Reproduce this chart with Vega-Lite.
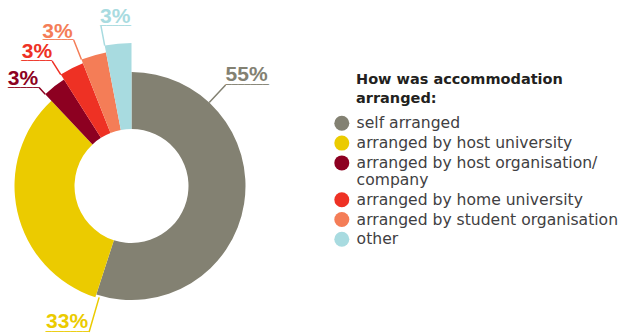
{
  "$schema": "https://vega.github.io/schema/vega-lite/v6.json",
  "width": 263,
  "height": 300,
  "autosize": {"type": "none"},
  "padding": {"left": 0, "top": 36, "right": 358, "bottom": 0},
  "background": "white",
  "config": {
    "view": {"stroke": null},
    "legend": {"orient": "none", "legendX": 356, "legendY": 37, "titleFont": "DejaVu Sans", "titleFontSize": 14.5, "titleFontWeight": "bold", "titleColor": "#231f20", "titleLineHeight": 18.5, "titlePadding": 9.5, "titleLimit": 400, "symbolType": "circle", "symbolSize": 225, "symbolStrokeWidth": 0, "symbolOffset": -22, "labelFont": "DejaVu Sans", "labelFontSize": 15.6, "labelColor": "#414042", "labelOffset": 7, "labelLimit": 0, "rowPadding": 2.8}
  },
  "data": {
    "values": [
      {"category": "self arranged", "pct": 0.55, "order": 1},
      {"category": "arranged by host university", "pct": 0.33, "order": 2},
      {"category": "arranged by host organisation/ company", "pct": 0.03, "order": 3},
      {"category": "arranged by home university", "pct": 0.03, "order": 4},
      {"category": "arranged by student organisation", "pct": 0.03, "order": 5},
      {"category": "other", "pct": 0.03, "order": 6}
    ]
  },
  "transform": [
    {"stack": "pct", "groupby": [], "sort": [{"field": "order", "order": "ascending"}], "as": ["v0", "v1"]}
  ],
  "layer": [
    {
      "transform": [{"filter": "datum.order == 1"}],
      "layer": [
        {"mark": {"type": "arc", "innerRadius": 57, "outerRadius": 114},
         "encoding": {
           "theta": {"field": "v0", "type": "quantitative", "stack": null, "scale": {"domain": [0, 1]}},
           "theta2": {"field": "v1"},
           "color": {"field": "category", "type": "nominal", "scale": {"domain": ["self arranged", "arranged by host university", "arranged by host organisation/ company", "arranged by home university", "arranged by student organisation", "other"], "range": ["#838172", "#ebcb00", "#8d0021", "#ee3124", "#f47d57", "#a8dbe0"]},
             "legend": {"title": ["How was accommodation", "arranged:"], "labelExpr": "datum.label == 'arranged by host organisation/ company' ? ['arranged by host organisation/', 'company'] : datum.label"}}
         }},
        {"mark": {"type": "arc", "filled": false, "strokeWidth": 1.5, "innerRadius": 114, "outerRadius": 138},
         "encoding": {
           "theta": {"datum": 0.1194, "type": "quantitative", "scale": {"domain": [0, 1]}},
           "theta2": {"datum": 0.1194},
           "color": {"field": "category", "type": "nominal", "legend": null}
         }},
        {"mark": {"type": "text", "radius": 138, "align": "left", "baseline": "alphabetic", "dx": 0, "dy": -4, "font": "Liberation Sans", "fontWeight": "bold", "fontSize": 21},
         "encoding": {
           "theta": {"datum": 0.1194, "type": "quantitative", "scale": {"domain": [0, 1]}},
           "text": {"field": "pct", "type": "quantitative", "format": ".0%"},
           "color": {"field": "category", "type": "nominal", "legend": null}
         }},
        {"mark": {"type": "text", "radius": 138, "align": "left", "baseline": "middle", "dx": 0, "font": "DejaVu Sans", "fontSize": 10.3},
         "encoding": {
           "theta": {"datum": 0.1194, "type": "quantitative", "scale": {"domain": [0, 1]}},
           "text": {"value": "───────"},
           "color": {"field": "category", "type": "nominal", "legend": null}
         }}
      ]
    },
    {
      "transform": [{"filter": "datum.order == 2"}],
      "layer": [
        {"mark": {"type": "arc", "innerRadius": 57, "outerRadius": 117},
         "encoding": {
           "theta": {"field": "v0", "type": "quantitative", "stack": null, "scale": {"domain": [0, 1]}},
           "theta2": {"field": "v1"},
           "color": {"field": "category", "type": "nominal",
             "legend": {"title": ["How was accommodation", "arranged:"], "labelExpr": "datum.label == 'arranged by host organisation/ company' ? ['arranged by host organisation/', 'company'] : datum.label"}}
         }},
        {"mark": {"type": "arc", "filled": false, "strokeWidth": 1.5, "innerRadius": 116, "outerRadius": 152},
         "encoding": {
           "theta": {"datum": 0.545, "type": "quantitative", "scale": {"domain": [0, 1]}},
           "theta2": {"datum": 0.545},
           "color": {"field": "category", "type": "nominal", "legend": null}
         }},
        {"mark": {"type": "text", "radius": 152, "align": "right", "baseline": "alphabetic", "dx": -1, "dy": -3.5, "font": "Liberation Sans", "fontWeight": "bold", "fontSize": 21},
         "encoding": {
           "theta": {"datum": 0.545, "type": "quantitative", "scale": {"domain": [0, 1]}},
           "text": {"field": "pct", "type": "quantitative", "format": ".0%"},
           "color": {"field": "category", "type": "nominal", "legend": null}
         }},
        {"mark": {"type": "text", "radius": 152, "align": "right", "baseline": "middle", "dx": 0, "font": "DejaVu Sans", "fontSize": 10.3},
         "encoding": {
           "theta": {"datum": 0.545, "type": "quantitative", "scale": {"domain": [0, 1]}},
           "text": {"value": "───────"},
           "color": {"field": "category", "type": "nominal", "legend": null}
         }}
      ]
    },
    {
      "transform": [{"filter": "datum.order == 3"}],
      "layer": [
        {"mark": {"type": "arc", "innerRadius": 57, "outerRadius": 126},
         "encoding": {
           "theta": {"field": "v0", "type": "quantitative", "stack": null, "scale": {"domain": [0, 1]}},
           "theta2": {"field": "v1"},
           "color": {"field": "category", "type": "nominal",
             "legend": {"title": ["How was accommodation", "arranged:"], "labelExpr": "datum.label == 'arranged by host organisation/ company' ? ['arranged by host organisation/', 'company'] : datum.label"}}
         }},
        {"mark": {"type": "arc", "filled": false, "strokeWidth": 1.5, "innerRadius": 126, "outerRadius": 135},
         "encoding": {
           "theta": {"field": "v0", "type": "quantitative", "stack": null, "scale": {"domain": [0, 1]}},
           "theta2": {"field": "v0"},
           "color": {"field": "category", "type": "nominal", "legend": null}
         }},
        {"mark": {"type": "text", "radius": 135, "align": "right", "baseline": "alphabetic", "dx": -1, "dy": -3, "font": "Liberation Sans", "fontWeight": "bold", "fontSize": 21},
         "encoding": {
           "theta": {"field": "v0", "type": "quantitative", "stack": null, "scale": {"domain": [0, 1]}},
           "text": {"field": "pct", "type": "quantitative", "format": ".0%"},
           "color": {"field": "category", "type": "nominal", "legend": null}
         }},
        {"mark": {"type": "text", "radius": 135, "align": "right", "baseline": "middle", "dx": 0, "font": "DejaVu Sans", "fontSize": 10.3},
         "encoding": {
           "theta": {"field": "v0", "type": "quantitative", "stack": null, "scale": {"domain": [0, 1]}},
           "text": {"value": "─────"},
           "color": {"field": "category", "type": "nominal", "legend": null}
         }}
      ]
    },
    {
      "transform": [{"filter": "datum.order == 4"}],
      "layer": [
        {"mark": {"type": "arc", "innerRadius": 57, "outerRadius": 132},
         "encoding": {
           "theta": {"field": "v0", "type": "quantitative", "stack": null, "scale": {"domain": [0, 1]}},
           "theta2": {"field": "v1"},
           "color": {"field": "category", "type": "nominal",
             "legend": {"title": ["How was accommodation", "arranged:"], "labelExpr": "datum.label == 'arranged by host organisation/ company' ? ['arranged by host organisation/', 'company'] : datum.label"}}
         }},
        {"mark": {"type": "arc", "filled": false, "strokeWidth": 1.5, "innerRadius": 132, "outerRadius": 148},
         "encoding": {
           "theta": {"field": "v0", "type": "quantitative", "stack": null, "scale": {"domain": [0, 1]}},
           "theta2": {"field": "v0"},
           "color": {"field": "category", "type": "nominal", "legend": null}
         }},
        {"mark": {"type": "text", "radius": 148, "align": "right", "baseline": "alphabetic", "dx": 0, "dy": -3, "font": "Liberation Sans", "fontWeight": "bold", "fontSize": 21},
         "encoding": {
           "theta": {"field": "v0", "type": "quantitative", "stack": null, "scale": {"domain": [0, 1]}},
           "text": {"field": "pct", "type": "quantitative", "format": ".0%"},
           "color": {"field": "category", "type": "nominal", "legend": null}
         }},
        {"mark": {"type": "text", "radius": 148, "align": "right", "baseline": "middle", "dx": 0, "font": "DejaVu Sans", "fontSize": 10.3},
         "encoding": {
           "theta": {"field": "v0", "type": "quantitative", "stack": null, "scale": {"domain": [0, 1]}},
           "text": {"value": "─────"},
           "color": {"field": "category", "type": "nominal", "legend": null}
         }}
      ]
    },
    {
      "transform": [{"filter": "datum.order == 5"}],
      "layer": [
        {"mark": {"type": "arc", "innerRadius": 57, "outerRadius": 136},
         "encoding": {
           "theta": {"field": "v0", "type": "quantitative", "stack": null, "scale": {"domain": [0, 1]}},
           "theta2": {"field": "v1"},
           "color": {"field": "category", "type": "nominal",
             "legend": {"title": ["How was accommodation", "arranged:"], "labelExpr": "datum.label == 'arranged by host organisation/ company' ? ['arranged by host organisation/', 'company'] : datum.label"}}
         }},
        {"mark": {"type": "arc", "filled": false, "strokeWidth": 1.5, "innerRadius": 136, "outerRadius": 157},
         "encoding": {
           "theta": {"field": "v0", "type": "quantitative", "stack": null, "scale": {"domain": [0, 1]}},
           "theta2": {"field": "v0"},
           "color": {"field": "category", "type": "nominal", "legend": null}
         }},
        {"mark": {"type": "text", "radius": 157, "align": "right", "baseline": "alphabetic", "dx": -1, "dy": -2.5, "font": "Liberation Sans", "fontWeight": "bold", "fontSize": 21},
         "encoding": {
           "theta": {"field": "v0", "type": "quantitative", "stack": null, "scale": {"domain": [0, 1]}},
           "text": {"field": "pct", "type": "quantitative", "format": ".0%"},
           "color": {"field": "category", "type": "nominal", "legend": null}
         }},
        {"mark": {"type": "text", "radius": 157, "align": "right", "baseline": "middle", "dx": 0, "font": "DejaVu Sans", "fontSize": 10.3},
         "encoding": {
           "theta": {"field": "v0", "type": "quantitative", "stack": null, "scale": {"domain": [0, 1]}},
           "text": {"value": "─────"},
           "color": {"field": "category", "type": "nominal", "legend": null}
         }}
      ]
    },
    {
      "transform": [{"filter": "datum.order == 6"}],
      "layer": [
        {"mark": {"type": "arc", "innerRadius": 57, "outerRadius": 143},
         "encoding": {
           "theta": {"field": "v0", "type": "quantitative", "stack": null, "scale": {"domain": [0, 1]}},
           "theta2": {"field": "v1"},
           "color": {"field": "category", "type": "nominal",
             "legend": {"title": ["How was accommodation", "arranged:"], "labelExpr": "datum.label == 'arranged by host organisation/ company' ? ['arranged by host organisation/', 'company'] : datum.label"}}
         }},
        {"mark": {"type": "arc", "filled": false, "strokeWidth": 1.5, "innerRadius": 143, "outerRadius": 163},
         "encoding": {
           "theta": {"field": "v0", "type": "quantitative", "stack": null, "scale": {"domain": [0, 1]}},
           "theta2": {"field": "v0"},
           "color": {"field": "category", "type": "nominal", "legend": null}
         }},
        {"mark": {"type": "text", "radius": 163, "align": "left", "baseline": "alphabetic", "dx": -1, "dy": -2.5, "font": "Liberation Sans", "fontWeight": "bold", "fontSize": 21},
         "encoding": {
           "theta": {"field": "v0", "type": "quantitative", "stack": null, "scale": {"domain": [0, 1]}},
           "text": {"field": "pct", "type": "quantitative", "format": ".0%"},
           "color": {"field": "category", "type": "nominal", "legend": null}
         }},
        {"mark": {"type": "text", "radius": 163, "align": "left", "baseline": "middle", "dx": -1, "font": "DejaVu Sans", "fontSize": 10.3},
         "encoding": {
           "theta": {"field": "v0", "type": "quantitative", "stack": null, "scale": {"domain": [0, 1]}},
           "text": {"value": "─────"},
           "color": {"field": "category", "type": "nominal", "legend": null}
         }}
      ]
    }
  ]
}
